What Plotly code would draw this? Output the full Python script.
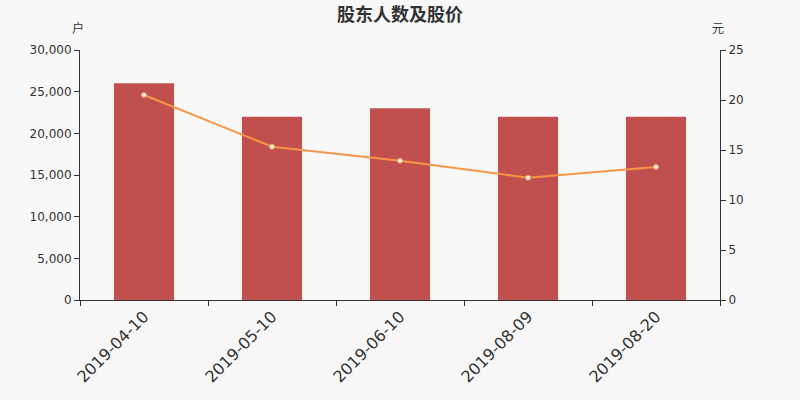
from plotly.subplots import make_subplots
import plotly.graph_objects as go

dates = ['2019-04-10', '2019-05-10', '2019-06-10', '2019-08-09', '2019-08-20']
holders = [26000, 22000, 23000, 22000, 22000]
prices = [20.5, 15.33, 13.93, 12.23, 13.3]

fig = make_subplots(specs=[[{'secondary_y': True}]])

fig.add_trace(
    go.Bar(
        x=dates,
        y=holders,
        name='股东人数',
        marker=dict(color='#c0504d', line=dict(width=0)),
        width=0.47
    ),
    secondary_y=False,
)

fig.add_trace(
    go.Scatter(
        x=dates,
        y=prices,
        name='股价',
        mode='lines+markers',
        line=dict(color='#f79646', width=2),
        marker=dict(color='#ffffff', size=5, line=dict(color='#f79646', width=1))
    ),
    secondary_y=True,
)

font_family = 'DejaVu Sans, Noto Sans CJK SC, sans-serif'
fig.update_layout(
    width=800,
    height=400,
    margin=dict(l=80, r=80, t=50, b=100),
    paper_bgcolor='#f8f8f8',
    plot_bgcolor='#f8f8f8',
    showlegend=False,
    font=dict(family=font_family, color='#333333'),
    title=dict(text='<b>股东人数及股价</b>', x=0.5, xanchor='center',
               y=0.963, yanchor='middle',
               font=dict(family='Noto Sans CJK SC, sans-serif', size=18, color='#333333')),
)

fig.update_xaxes(
    type='category',
    domain=[0, 1],
    tickson='boundaries',
    ticks='outside',
    ticklen=5,
    tickcolor='#333333',
    showline=True,
    linecolor='#333333',
    showgrid=False,
    tickangle=-45,
    tickfont=dict(size=16, color='#333333'),
)
fig.update_yaxes(
    range=[0, 30000],
    dtick=5000,
    tickformat=',',
    ticks='outside',
    ticklen=5,
    tickcolor='#333333',
    showline=True,
    linecolor='#333333',
    showgrid=False,
    zeroline=False,
    tickfont=dict(size=12, color='#333333'),
    secondary_y=False,
)
fig.update_yaxes(
    range=[0, 25],
    dtick=5,
    ticks='outside',
    ticklen=5,
    tickcolor='#333333',
    showline=True,
    linecolor='#333333',
    showgrid=False,
    zeroline=False,
    tickfont=dict(size=12, color='#333333'),
    secondary_y=True,
)

fig.add_annotation(text='户', xref='paper', yref='paper', x=-0.003, y=1.088,
                   xanchor='center', yanchor='middle', showarrow=False,
                   font=dict(family='Noto Sans CJK SC', size=12, color='#333333'))
fig.add_annotation(text='元', xref='paper', yref='paper', x=0.997, y=1.088,
                   xanchor='center', yanchor='middle', showarrow=False,
                   font=dict(family='Noto Sans CJK SC', size=12, color='#333333'))

fig.write_html('out.html', config={'displayModeBar': False},
               post_script="document.body.style.margin='0';")
